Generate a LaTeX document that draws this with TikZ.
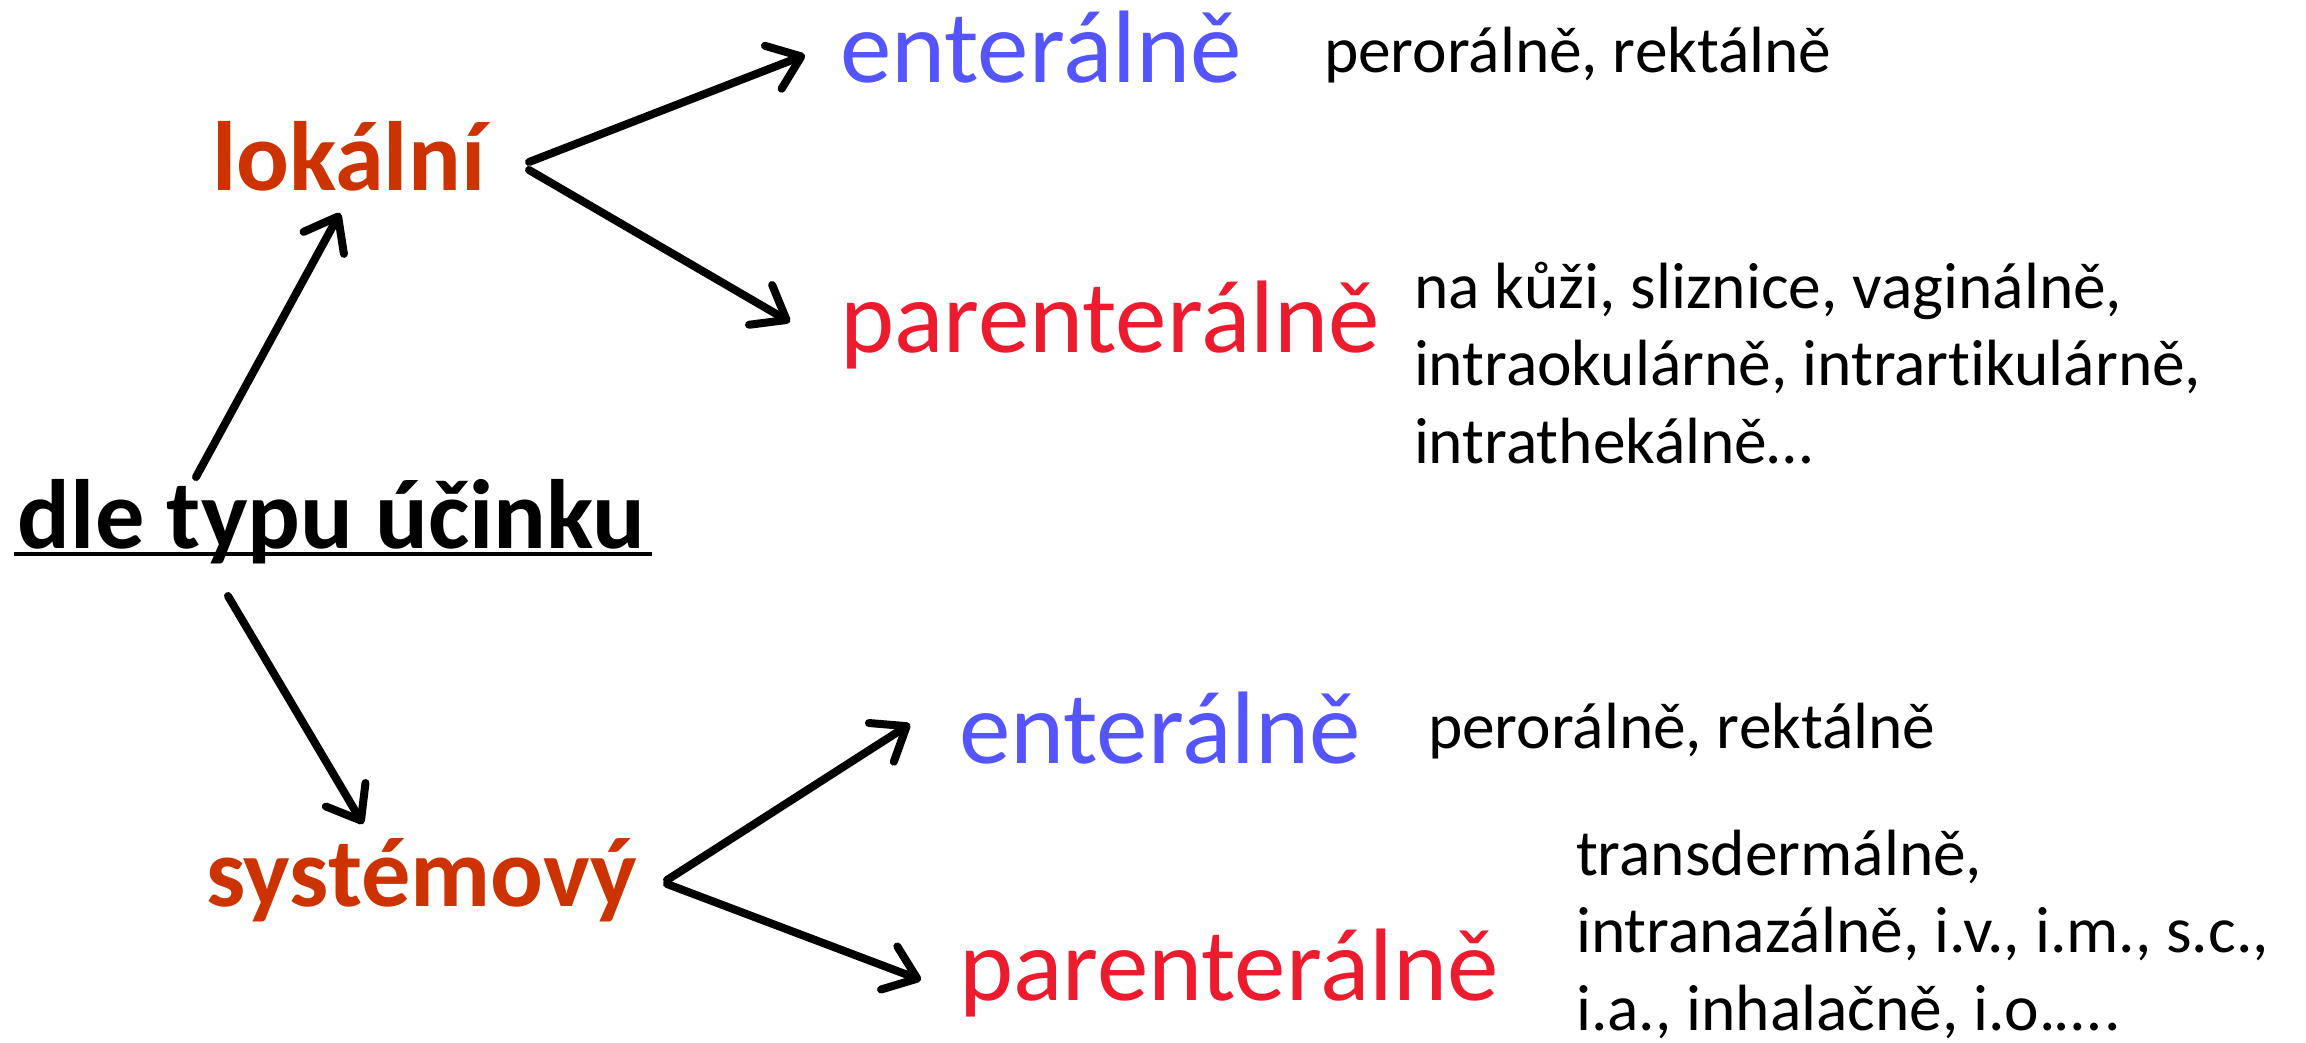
\documentclass[tikz,border=0pt]{standalone}
\usepackage{fontspec}
\setmainfont{Carlito}[Ligatures=NoCommon]
\usetikzlibrary{arrows.meta}
\definecolor{headred}{RGB}{204,51,0}
\definecolor{entblue}{RGB}{85,85,255}
\definecolor{parred}{RGB}{237,27,46}
\begin{document}
\begin{tikzpicture}[x=0.01cm,y=-0.01cm,
  lbl/.style={inner sep=0pt,outer sep=0pt,anchor=base west},
  big/.style={lbl,font=\fontsize{29.3}{35}\selectfont},
  head/.style={lbl,font=\fontsize{28}{33}\selectfont\bfseries,text=headred},
  note/.style={lbl,align=left,font=\fontsize{18.6}{21.9}\selectfont},
  arr/.style={line width=0.08cm,line cap=round,-{Straight Barb[length=0.30cm,width=0.46cm,round]},
    preaction={draw=black!45,opacity=0.35,transform canvas={shift={(0.02cm,-0.03cm)}}}}]
\useasboundingbox[fill=white] (0,0) rectangle (2306,1043);

\node[lbl,font=\fontsize{28}{33}\selectfont\bfseries] (dle) at (18,548) {dle typu účinku};
\node[head] (lok) at (212,191) {lokální};
\node[head] (sys) at (206,906) {systémový};
\node[big,text=entblue] (ent1) at (840,83) {enterálně};
\node[big,text=parred] (par1) at (840,353) {parenterálně};
\node[big,text=entblue] (ent2) at (959,763) {enterálně};
\node[big,text=parred] (par2) at (959,1000) {parenterálně};
\node[note] (t1) at (1324,73) {perorálně, rektálně};
\node[note] (t2) at (1414,463) {na kůži, sliznice, vaginálně,\\intraokulárně, intrartikulárně,\\intrathekálně…};
\node[note] (t3) at (1428,748) {perorálně, rektálně};
\node[note] (t4) at (1576,1030) {transdermálně,\\intranazálně, i.v., i.m., s.c.,\\i.a., inhalačně, i.o.…\kern1pt.};

\draw[line width=0.03cm] ([shift={(-4,6)}]dle.base west) -- ([shift={(6,6)}]dle.base east);

\draw[arr] ([shift={(178,-71)}]dle.base west) -- ([shift={(128,22)}]lok.base west);
\draw[arr] ([shift={(210,48)}]dle.base west) -- ([shift={(157,-82)}]sys.base west);
\draw[arr] ([shift={(317,-29)}]lok.base west) -- ([shift={(-35,-28)}]ent1.base west);
\draw[arr] ([shift={(317,-21)}]lok.base west) -- ([shift={(-50,-31)}]par1.base west);
\draw[arr] ([shift={(461,-26)}]sys.base west) -- ([shift={(-49,-39)}]ent2.base west);
\draw[arr] ([shift={(461,-22)}]sys.base west) -- ([shift={(-38,-20)}]par2.base west);
\end{tikzpicture}
\end{document}
